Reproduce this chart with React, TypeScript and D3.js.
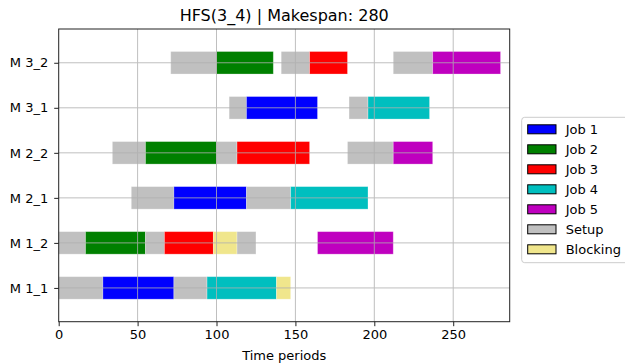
// Gantt chart — HFS(3_4) schedule with setup and blocking periods
import { useEffect, useRef } from 'react';
import * as d3 from 'd3';

// ── Data ─────────────────────────────────────────────
const MACHINES = ['M 1_1', 'M 1_2', 'M 2_1', 'M 2_2', 'M 3_1', 'M 3_2'];
const KINDS = ['Job 1', 'Job 2', 'Job 3', 'Job 4', 'Job 5', 'Setup', 'Blocking'];
const X_TICKS = [0, 50, 100, 150, 200, 250];
const MAKESPAN = 280;

// [machine, kind, start, end]
const SEGMENTS: [string, string, number, number][] = [
  ['M 1_1', 'Setup', 0, 28], ['M 1_1', 'Job 1', 28, 73], ['M 1_1', 'Setup', 73, 94],
  ['M 1_1', 'Job 4', 94, 138], ['M 1_1', 'Blocking', 138, 147],
  ['M 1_2', 'Setup', 0, 17], ['M 1_2', 'Job 2', 17, 55], ['M 1_2', 'Setup', 55, 67],
  ['M 1_2', 'Job 3', 67, 98], ['M 1_2', 'Blocking', 98, 113], ['M 1_2', 'Setup', 113, 125],
  ['M 1_2', 'Job 5', 164, 212],
  ['M 2_1', 'Setup', 46, 73], ['M 2_1', 'Job 1', 73, 119], ['M 2_1', 'Setup', 119, 147],
  ['M 2_1', 'Job 4', 147, 196],
  ['M 2_2', 'Setup', 34, 55], ['M 2_2', 'Job 2', 55, 100], ['M 2_2', 'Setup', 100, 113],
  ['M 2_2', 'Job 3', 113, 159], ['M 2_2', 'Setup', 183, 212], ['M 2_2', 'Job 5', 212, 237],
  ['M 3_1', 'Setup', 108, 119], ['M 3_1', 'Job 1', 119, 164], ['M 3_1', 'Setup', 184, 196],
  ['M 3_1', 'Job 4', 196, 235],
  ['M 3_2', 'Setup', 71, 100], ['M 3_2', 'Job 2', 100, 136], ['M 3_2', 'Setup', 141, 159],
  ['M 3_2', 'Job 3', 159, 183], ['M 3_2', 'Setup', 212, 237], ['M 3_2', 'Job 5', 237, 280],
];

const COLORS: Record<string, string> = {
  'Job 1': '#0000ff',
  'Job 2': '#008000',
  'Job 3': '#ff0000',
  'Job 4': '#00bfbf',
  'Job 5': '#bf00bf',
  Setup: '#c0c0c0',
  Blocking: '#f0e68c',
};

const FONT = '"DejaVu Sans", sans-serif';

export default function App() {
  const svgRef = useRef<SVGSVGElement>(null);

  useEffect(() => {
    const W = 625, H = 364;
    const m = { left: 58.7, right: 509.7, top: 29, bottom: 321.7 };

    const x = d3.scaleLinear().domain([0, MAKESPAN * 1.0207]).range([m.left, m.right]);
    const y = d3.scaleLinear().domain([0.25, MACHINES.length + 0.75]).range([m.bottom, m.top]);
    const row = (name: string) => MACHINES.indexOf(name) + 1;
    const barH = y(0) - y(0.5);

    const svg = d3.select(svgRef.current).attr('width', W).attr('height', H);
    svg.selectAll('*').remove();

    // Barres
    svg.append('g')
      .selectAll('rect')
      .data(SEGMENTS)
      .join('rect')
      .attr('x', d => x(d[2]))
      .attr('y', d => y(row(d[0])) - barH / 2)
      .attr('width', d => x(d[3]) - x(d[2]))
      .attr('height', barH)
      .attr('fill', d => COLORS[d[1]])
      .attr('stroke', '#ffffff')
      .attr('stroke-opacity', 0.35)
      .attr('stroke-width', 0.8);

    // Grille (au-dessus des barres, comme matplotlib)
    const grid = svg.append('g').attr('stroke', '#b0b0b0').attr('stroke-width', 1).attr('opacity', 0.8);
    grid.selectAll('line.v')
      .data(X_TICKS.slice(1))
      .join('line')
      .attr('class', 'v')
      .attr('x1', d => x(d)).attr('x2', d => x(d))
      .attr('y1', m.top).attr('y2', m.bottom);
    grid.selectAll('line.h')
      .data(MACHINES)
      .join('line')
      .attr('class', 'h')
      .attr('x1', m.left).attr('x2', m.right)
      .attr('y1', d => y(row(d))).attr('y2', d => y(row(d)));

    // Cadre
    svg.append('rect')
      .attr('x', m.left).attr('y', m.top)
      .attr('width', m.right - m.left).attr('height', m.bottom - m.top)
      .attr('fill', 'none').attr('stroke', '#222').attr('stroke-width', 1);

    // Axe X
    const xAxis = svg.append('g')
      .attr('transform', `translate(0,${m.bottom})`)
      .call(d3.axisBottom(x).tickValues(X_TICKS).tickSize(4.5).tickPadding(3.5));
    xAxis.select('.domain').remove();
    xAxis.selectAll('text').attr('font-size', 13).attr('font-family', FONT).attr('fill', '#000');
    xAxis.selectAll('line').attr('stroke', '#222');

    // Axe Y
    const yAxis = svg.append('g')
      .attr('transform', `translate(${m.left},0)`)
      .call(d3.axisLeft(y).tickValues(MACHINES.map((_, i) => i + 1))
        .tickFormat((_, i) => MACHINES[i]).tickSize(4.5).tickPadding(6));
    yAxis.select('.domain').remove();
    yAxis.selectAll('text').attr('font-size', 13).attr('font-family', FONT).attr('fill', '#000');
    yAxis.selectAll('line').attr('stroke', '#222');

    // Titre + label
    svg.append('text')
      .attr('x', (m.left + m.right) / 2).attr('y', 21)
      .attr('text-anchor', 'middle')
      .attr('font-size', 16).attr('font-family', FONT)
      .text(`HFS(3_4) | Makespan: ${MAKESPAN}`);
    svg.append('text')
      .attr('x', (m.left + m.right) / 2).attr('y', 360)
      .attr('text-anchor', 'middle')
      .attr('font-size', 13).attr('font-family', FONT)
      .text('Time periods');

    // Légende
    const lg = svg.append('g');
    lg.append('rect')
      .attr('x', 521.7).attr('y', 117.3).attr('width', 110).attr('height', 145.4)
      .attr('rx', 3).attr('fill', '#fff').attr('stroke', '#cccccc');
    const items = lg.selectAll('g.item')
      .data(KINDS)
      .join('g')
      .attr('class', 'item')
      .attr('transform', (_, i) => `translate(0,${129.3 + i * 20})`);
    items.append('rect')
      .attr('x', 527.7).attr('y', -4.5).attr('width', 28.3).attr('height', 9)
      .attr('fill', d => COLORS[d]).attr('stroke', '#000').attr('stroke-width', 1);
    items.append('text')
      .attr('x', 565.7).attr('dy', '0.35em')
      .attr('font-size', 13).attr('font-family', FONT)
      .text(d => d);
  }, []);

  return (
    <div style={{ position: 'fixed', left: 0, top: 0, width: 625, height: 364, background: '#fff' }}>
      <svg ref={svgRef} style={{ display: 'block' }} />
    </div>
  );
}
